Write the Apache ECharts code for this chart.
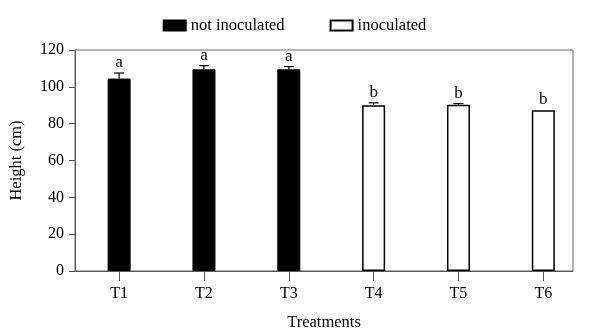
<!DOCTYPE html>
<html>
<head>
<meta charset="utf-8">
<script src="https://cdn.jsdelivr.net/npm/echarts@6/dist/echarts.min.js"></script>
<style>
  html, body { margin: 0; padding: 0; background: #fff; }
  #chart { width: 589px; height: 336px; }
</style>
</head>
<body>
<div id="chart"></div>
<script>
// 数据
var categories = ['T1', 'T2', 'T3', 'T4', 'T5', 'T6'];
var heights = [104.5, 109.5, 109.5, 90, 90.3, 87.3];
var errors = [3, 2, 1.5, 1.3, 0.6, 0];
var letters = ['a', 'a', 'a', 'b', 'b', 'b'];
var notInoculated = [0, 1, 2]; // T1-T3
var inoculated = [3, 4, 5];    // T4-T6
var yTicks = [0, 20, 40, 60, 80, 100, 120];

var font = 'Liberation Serif';
var positions = categories.map(function (c, i) { return i + 1; });

var chart = echarts.init(document.getElementById('chart'));
chart.setOption({
  animation: false,
  textStyle: { fontFamily: font, color: '#000' },
  legend: {
    left: 'center',
    top: 12,
    icon: 'rect',
    itemWidth: 22,
    itemHeight: 10,
    itemGap: 45,
    textStyle: { fontFamily: font, fontSize: 16.5, color: '#000' },
    data: ['not inoculated', 'inoculated']
  },
  grid: {
    left: 74,
    right: 16,
    top: 50,
    bottom: 63,
    show: true,
    borderColor: '#666',
    borderWidth: 1
  },
  xAxis: {
    type: 'value',
    min: 0.48,
    max: 6.35,
    name: 'Treatments',
    nameLocation: 'middle',
    nameGap: 43,
    nameTextStyle: { fontFamily: font, fontSize: 16.5, color: '#000' },
    splitLine: { show: false },
    axisLine: { show: true, lineStyle: { color: '#555', width: 1 } },
    axisTick: { show: true, length: 10, customValues: positions, lineStyle: { color: '#555' } },
    axisLabel: {
      customValues: positions,
      margin: 15,
      fontFamily: font,
      fontSize: 16,
      color: '#000',
      formatter: function (v) { return categories[Math.round(v) - 1]; }
    }
  },
  yAxis: {
    type: 'value',
    min: yTicks[0],
    max: yTicks[yTicks.length - 1],
    interval: 20,
    name: 'Height (cm)',
    nameLocation: 'middle',
    nameGap: 50,
    nameTextStyle: { fontFamily: font, fontSize: 16.5, color: '#000' },
    splitLine: { show: false },
    axisLine: { show: true, lineStyle: { color: '#555', width: 1 } },
    axisTick: { show: true, length: 6, lineStyle: { color: '#555' } },
    axisLabel: { margin: 11, fontFamily: font, fontSize: 16, color: '#000' }
  },
  series: [
    {
      name: 'not inoculated',
      type: 'bar',
      barWidth: 23,
      barGap: '-100%',
      itemStyle: { color: '#000', borderColor: '#000', borderWidth: 1 },
      data: notInoculated.map(function (i) { return [positions[i], heights[i]]; })
    },
    {
      name: 'inoculated',
      type: 'bar',
      barWidth: 23,
      barGap: '-100%',
      itemStyle: { color: '#fff', borderColor: '#000', borderWidth: 1.5 },
      data: inoculated.map(function (i) { return [positions[i], heights[i]]; })
    },
    {
      // 误差线 + 字母标注
      type: 'custom',
      silent: true,
      z: 5,
      data: categories.map(function (c, i) {
        return [positions[i], heights[i], heights[i] + errors[i], i];
      }),
      renderItem: function (params, api) {
        var x = api.value(0);
        var top = api.coord([x, api.value(2)]);
        var base = api.coord([x, api.value(1)]);
        var idx = api.value(3);
        var children = [];
        if (errors[idx] > 0) {
          children.push({
            type: 'line',
            shape: { x1: base[0], y1: base[1], x2: top[0], y2: top[1] },
            style: { stroke: '#000', lineWidth: 1.2 }
          });
          children.push({
            type: 'line',
            shape: { x1: top[0] - 5, y1: top[1], x2: top[0] + 5, y2: top[1] },
            style: { stroke: '#000', lineWidth: 1.2 }
          });
        }
        children.push({
          type: 'text',
          style: {
            x: top[0],
            y: top[1] - 2,
            text: letters[idx],
            fill: '#000',
            font: '17px "Liberation Serif"',
            align: 'center',
            verticalAlign: 'bottom'
          }
        });
        return { type: 'group', children: children };
      }
    }
  ]
});
</script>
</body>
</html>
